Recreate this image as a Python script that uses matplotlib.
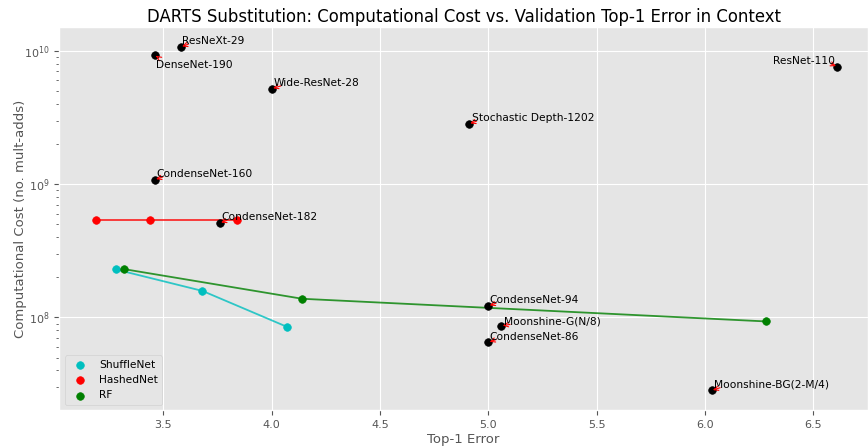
import matplotlib
matplotlib.use("Agg")
import matplotlib.pyplot as plt

plt.style.use("ggplot")
plt.rcParams["font.size"] = 7.7

# named models: top-1 error (%) and mult-adds
model_names = ["ResNeXt-29", "DenseNet-190", "Wide-ResNet-28", "CondenseNet-160",
               "CondenseNet-182", "Stochastic Depth-1202", "ResNet-110",
               "CondenseNet-94", "Moonshine-G(N/8)", "CondenseNet-86",
               "Moonshine-BG(2-M/4)"]
model_err = [3.58, 3.46, 4.00, 3.46, 3.76, 4.91, 6.61, 5.00, 5.06, 5.00, 6.03]
model_cost = [1.07e10, 9.3e9, 5.2e9, 1.08e9, 5.1e8, 2.83e9, 7.6e9,
              1.22e8, 8.65e7, 6.5e7, 2.83e7]
# label offsets in points (dx, dy) and where the arrow leaves the text box
label_offsets = [(1, 2), (1, -9), (1, 2), (1, 2), (1, 2), (2, 2),
                 (-46, 2), (1, 2), (2, 1), (1, 2), (2, 2)]
arrow_rel = [(0.1, 0.2), (0.1, 0.8), (0.09, 0.2), (0.07, 0.2), (0.06, 0.2),
             (0.04, 0.2), (0.93, 0.2), (0.07, 0.2), (0.06, 0.2), (0.07, 0.2),
             (0.05, 0.2)]

shuffle_err = [3.28, 3.68, 4.07]
shuffle_cost = [2.29e8, 1.58e8, 8.5e7]
hashed_err = [3.19, 3.44, 3.84]
hashed_cost = [5.37e8, 5.37e8, 5.37e8]
rf_err = [3.32, 4.14, 6.28]
rf_cost = [2.3e8, 1.38e8, 9.33e7]

fig = plt.figure(figsize=(8.68, 4.48), dpi=100)
ax = fig.add_axes([0.0683, 0.0848, 0.9317, 0.8542])

ax.plot(shuffle_err, shuffle_cost, color="c", lw=1.3, alpha=0.8)
ax.scatter(shuffle_err, shuffle_cost, color="c", s=30, zorder=3, label="ShuffleNet")
ax.plot(hashed_err, hashed_cost, color="r", lw=1.3, alpha=0.8)
ax.scatter(hashed_err, hashed_cost, color="r", s=30, zorder=3, label="HashedNet")
ax.plot(rf_err, rf_cost, color="g", lw=1.3, alpha=0.8)
ax.scatter(rf_err, rf_cost, color="g", s=30, zorder=3, label="RF")

ax.scatter(model_err, model_cost, color="k", s=30, zorder=4)
for name, x, y, off, rel in zip(model_names, model_err, model_cost,
                                label_offsets, arrow_rel):
    ax.annotate(name, xy=(x, y), xytext=off, textcoords="offset points",
                fontsize=7.7, color="black", zorder=5,
                arrowprops=dict(arrowstyle="->", color="red", lw=0.8,
                                relpos=rel, shrinkA=0, shrinkB=1))

ax.set_yscale("log")
ax.set_xlim(3.019, 6.752)
ax.set_ylim(2.02e7, 1.5e10)
ax.set_xticks([3.5, 4.0, 4.5, 5.0, 5.5, 6.0, 6.5])
ax.tick_params(labelsize=8)
ax.set_xlabel("Top-1 Error", fontsize=9.5)
ax.set_ylabel("Computational Cost (no. mult-adds)", fontsize=9.5)
ax.xaxis.set_label_coords(0.5, -0.06)
ax.yaxis.set_label_coords(-0.04, 0.5)
ax.set_title("DARTS Substitution: Computational Cost vs. Validation Top-1 Error in Context",
             fontsize=11.9, color="black", pad=4)
ax.legend(loc="lower left", fontsize=7.7, facecolor="#E5E5E5")

fig.savefig("out.png", dpi=100)
